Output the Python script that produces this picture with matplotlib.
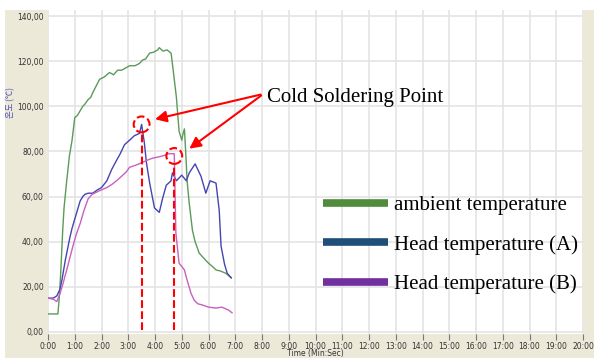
import numpy as np
import matplotlib
matplotlib.use('Agg')
import matplotlib.pyplot as plt
from matplotlib.patches import Rectangle
from matplotlib.lines import Line2D

# ambient temperature (green)
t_amb = [0, 0.37, 0.42, 0.47, 0.55, 0.6, 0.7, 0.8, 0.9, 1.0, 1.1, 1.2, 1.3, 1.38, 1.5, 1.6,
         1.67, 1.8, 1.93, 2.1, 2.3, 2.45, 2.6, 2.75, 2.9, 3.05, 3.25, 3.42, 3.53, 3.65, 3.8,
         3.95, 4.1, 4.16, 4.3, 4.45, 4.6, 4.65, 4.72, 4.8, 4.9, 5.0, 5.05, 5.1, 5.16, 5.2,
         5.28, 5.4, 5.5, 5.65, 5.8, 6.0, 6.15, 6.28, 6.45, 6.65, 6.85]
v_amb = [8, 8, 15, 25, 45, 55, 67, 78, 85, 95, 96, 98, 100, 101, 103, 104,
         106, 109, 112, 113, 115, 114, 116, 116, 117, 118, 118, 119, 120.5, 121, 123.6,
         124, 125, 126, 124.5, 125, 123.6, 119, 112, 104, 89, 85, 88, 90, 77, 67,
         57, 45, 40, 35, 33, 30.5, 29, 27.5, 27, 26, 24]

# head temperature A (blue)
t_a = [0, 0.2, 0.33, 0.45, 0.52, 0.65, 0.82, 0.9, 1.0, 1.1, 1.2, 1.3, 1.38, 1.5, 1.67, 1.85,
       2.0, 2.2, 2.38, 2.56, 2.7, 2.86, 3.05, 3.23, 3.42, 3.5, 3.6, 3.68, 3.8, 3.98, 4.16,
       4.28, 4.42, 4.6, 4.65, 4.8, 5.0, 5.17, 5.28, 5.5, 5.72, 5.9, 6.06, 6.28, 6.4, 6.47,
       6.6, 6.7, 6.85]
v_a = [15, 15, 16, 19, 23, 32, 42, 46, 50, 54, 58, 60, 61, 61.5, 61.5, 63,
       64, 67, 72, 76, 79, 83, 85, 87, 88, 92, 84, 75, 66, 55, 53,
       59, 65, 67, 70.5, 67, 69.5, 67, 70.5, 74.5, 69, 61.5, 67, 66, 54, 38,
       30, 26, 24]

# head temperature B (purple)
t_b = [0, 0.2, 0.33, 0.45, 0.55, 0.7, 0.93, 1.05, 1.2, 1.35, 1.5, 1.65, 1.82, 2.0, 2.2,
       2.4, 2.56, 2.75, 2.93, 3.05, 3.3, 3.5, 3.68, 3.9, 4.1, 4.28, 4.53, 4.72, 4.78,
       4.9, 5.1, 5.2, 5.35, 5.47, 5.6, 5.76, 6.0, 6.28, 6.5, 6.75, 6.88]
v_b = [15, 14.5, 13.5, 17, 21, 27.5, 38, 43, 48, 54, 59, 61, 62, 63, 64,
       65.5, 67, 69, 71, 73, 74, 75, 76, 77, 77.5, 78, 79, 79, 44,
       30.5, 27.5, 23, 17, 14, 12.5, 12, 11, 10.6, 11, 9.7, 8.5]

# cold soldering points
cold_t = [3.5, 4.72]
cold_v = [92, 78]

x_ticks = list(range(0, 21))
x_labels = ['%d:00' % m for m in x_ticks]
y_ticks = list(range(0, 141, 20))
y_labels = ['%d,00' % v for v in y_ticks]

leg_labels = ['ambient temperature', 'Head temperature (A)', 'Head temperature (B)']
leg_colors = ['#508c3c', '#1f4e79', '#7030a0']

W, H = 594, 358
fig = plt.figure(figsize=(W / 100, H / 100), dpi=100, facecolor='white')
fig.patches.append(Rectangle((5 / W, 0), 1, 348 / H, transform=fig.transFigure,
                             facecolor='#ece9d9', edgecolor='none', zorder=-10))
ax = fig.add_axes([48 / W, 24 / H, 535 / W, 324 / H])
ax.set_zorder(1)
ax.set_facecolor('white')
for sp in ax.spines.values():
    sp.set_visible(False)

ax.set_xlim(0, 20)
ax.set_ylim(-0.9, 142.7)
ax.set_xticks(x_ticks)
ax.set_xticklabels(x_labels)
ax.set_yticks(y_ticks)
ax.set_yticklabels(y_labels)
ax.grid(True, color='#e4e4e4', lw=1.2)
ax.set_axisbelow(True)
ax.tick_params(axis='x', length=4, width=0.8, color='#777777', pad=1.5,
               labelsize=5.5, labelcolor='#333333')
ax.tick_params(axis='y', length=0, pad=3, labelsize=5.5, labelcolor='#333333')
ax.set_xlabel('Time (Min:Sec)', fontsize=5.5, color='#333333', labelpad=-1)

ax.plot(t_amb, v_amb, color='#5a9a5a', lw=1)
ax.plot(t_a, v_a, color='#4545b0', lw=1)
ax.plot(t_b, v_b, color='#c860c0', lw=1)

# cold soldering markers
ax.scatter(cold_t, cold_v, s=130, facecolors='none', edgecolors='red',
           linewidths=1.5, linestyle='--', zorder=5)
ax.vlines(cold_t, 0.8, [v - 4 for v in cold_v], colors='red', linestyles='--', lw=1.5, zorder=5)

ax.text(8.2, 104, 'Cold Soldering Point', family='Liberation Serif', fontsize=15,
        ha='left', va='center')
ax.annotate('', xy=(3.9, 94), xytext=(8.05, 105.5),
            arrowprops=dict(arrowstyle='-|>', color='red', lw=1.5, mutation_scale=17))
ax.annotate('', xy=(5.2, 80.5), xytext=(8.05, 105.5),
            arrowprops=dict(arrowstyle='-|>', color='red', lw=1.5, mutation_scale=17))

handles = [Line2D([], [], color=c, lw=5.5, solid_capstyle='butt') for c in leg_colors]
ax.legend(handles, leg_labels, loc='upper left', bbox_to_anchor=(313 / W, 1 - 185 / H),
          bbox_transform=fig.transFigure, frameon=False, borderpad=0,
          handlelength=3.1, handletextpad=0.3, labelspacing=0.95,
          prop={'family': 'Liberation Serif', 'size': 15})

fig.text(11 / W, 1 - 102 / H, '온도 (℃)', rotation=90, ha='center', va='center',
         fontsize=6, color='#5050b0', family=['Noto Sans CJK KR', 'DejaVu Sans'])

fig.savefig('out.png', dpi=100)
